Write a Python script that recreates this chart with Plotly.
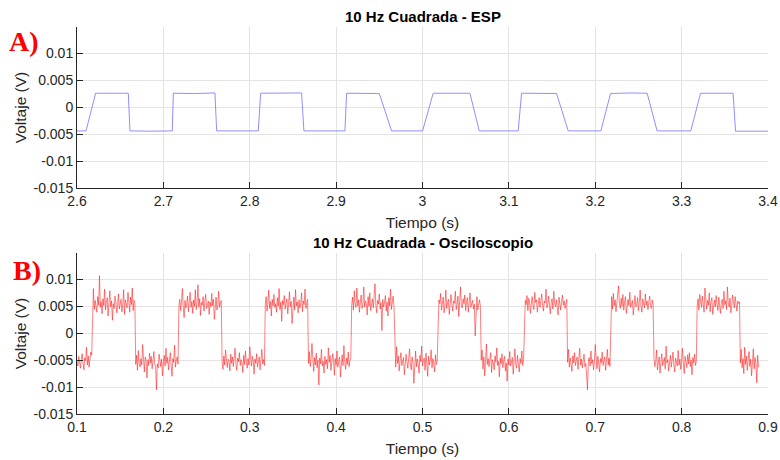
import numpy as np
import plotly.graph_objects as go

# ---------------- Data ----------------
# Panel A: ESP capture (time in s, voltage in mV)
esp_time = [2.600, 2.6104, 2.6216, 2.635, 2.648, 2.6594, 2.6613, 2.685, 2.7103, 2.7115,
            2.735, 2.7597, 2.7617, 2.790, 2.8099, 2.8126, 2.835, 2.860, 2.8627, 2.890,
            2.9102, 2.9121, 2.930, 2.950, 2.9642, 2.980, 3.0001, 3.0124, 3.035, 3.0549,
            3.0657, 3.090, 3.1108, 3.1147, 3.135, 3.1552, 3.1687, 3.190, 3.2065, 3.2177,
            3.240, 3.2601, 3.2716, 3.290, 3.3106, 3.3219, 3.340, 3.3596, 3.3624, 3.380, 3.400]
esp_mV = [-4.4, -4.4, 2.6, 2.55, 2.6, 2.6, -4.4, -4.45, -4.4, 2.6,
          2.55, 2.65, -4.4, -4.4, -4.4, 2.6, 2.65, 2.65, -4.4, -4.4,
          -4.4, 2.6, 2.6, 2.55, -4.4, -4.45, -4.4, 2.6, 2.65, 2.6,
          -4.4, -4.4, -4.4, 2.6, 2.6, 2.55, -4.4, -4.4, -4.4, 2.55,
          2.65, 2.6, -4.4, -4.4, -4.4, 2.6, 2.6, 2.6, -4.45, -4.4, -4.45]

# Panel B: oscilloscope capture, sampled every 1 ms starting at 0.100 s (mV)
osc_t0 = 0.100
osc_dt = 0.001
osc_mV = [
    -5.2, -6.1, -4.3, -5.8, -6.5, -4.9, -3.8, -5.5, -6.8, -4.6,
    -5.1, -2.6, -5.9, -4.2, -6.3, -4.8, -3.5, -4.1,
    5.6, 8.3, 4.4, 6.1, 5.0, 3.9, 6.8, 5.2, 10.7, 4.8,
    5.9, 3.6, 6.4, 5.1, 8.2, 4.3, 5.7, 6.6, 3.2, 5.3,
    7.9, 4.9, 6.0, 2.4, 5.5, 4.6, 6.9, 5.8, 3.8, 5.2,
    7.3, 4.5, 5.9, 6.3, 4.0, 5.4, 8.1, 3.5, 6.2, 5.0,
    4.7, 7.6, 5.6, 3.9, 6.7, 5.3, 8.4, 4.2, 6.1, 5.7,
    -5.8, -4.1, -6.9, -3.2, -5.4, -6.3, -4.7, -5.9, -2.1, -5.6,
    -7.2, -4.4, -5.1, -8.3, -4.9, -6.0, -3.7, -5.5, -4.3, -6.6,
    -5.2, -3.4, -5.8, -6.1, -10.5, -5.7, -6.4, -3.9, -5.0, -6.2,
    -4.8, -7.9, -5.3, -4.1, -6.1, -2.8, -5.6, -4.5, -6.8, -5.1,
    -3.6, -5.9, -8.0, -4.7, -5.4, -2.2, -6.3, -5.0, -4.4, -5.7,
    5.1, 6.3, 4.2, 5.8, 8.3, 5.0, 2.9, 6.1, 4.7, 5.5,
    6.9, 4.0, 5.3, 7.6, 4.8, 5.9, 3.7, 6.2, 5.0, 8.1,
    4.4, 5.6, 9.0, 4.9, 6.4, 3.3, 5.7, 5.2, 6.8, 4.1,
    5.9, 7.2, 4.6, 5.3, 6.0, 3.5, 5.8, 4.9, 7.4, 5.1,
    6.3, 2.6, 5.5, 6.7, 4.3, 5.0, 7.8, 4.8, 5.6, 6.1,
    -5.3, -6.7, -4.2, -5.9, -3.1, -5.5, -6.4, -4.8, -5.1, -7.0,
    -3.9, -5.6, -4.4, -6.2, -5.0, -2.8, -5.7, -6.9, -4.6, -5.3,
    -3.6, -6.0, -4.9, -5.4, -7.3, -4.1, -5.8, -3.3, -5.2, -6.5,
    -4.7, -5.9, -2.5, -5.5, -6.1, -4.3, -5.0, -7.6, -4.8, -5.6,
    -3.8, -6.3, -5.1, -4.4, -6.8, -5.4, -3.0, -5.7, -4.9, -6.0,
    5.4, 6.8, 4.1, 5.7, 8.0, 4.6, 5.9, 3.2, 6.3, 5.1,
    7.2, 4.8, 5.5, 3.9, 6.6, 5.0, 8.3, 4.4, 5.8, 2.2,
    6.1, 5.3, 7.0, 4.5, 5.6, 6.4, 3.6, 5.2, 7.7, 4.9,
    5.9, 1.8, 5.4, 6.7, 4.3, 8.1, 5.1, 5.8, 3.8, 6.2,
    4.7, 5.5, 7.5, 4.0, 6.0, 5.3, 8.2, 4.6, 5.7, 6.3,
    -5.6, -3.4, -6.2, -4.8, -1.9, -5.3, -7.1, -4.5, -5.9, -3.7,
    -6.4, -5.0, -9.6, -4.6, -5.7, -3.0, -6.1, -5.2, -7.4, -4.3,
    -5.8, -4.9, -6.6, -2.7, -5.4, -4.1, -6.9, -5.5, -3.8, -5.0,
    -7.8, -4.7, -5.9, -3.3, -6.3, -5.1, -4.4, -8.1, -5.6, -4.0,
    -6.0, -2.3, -5.3, -6.7, -4.6, -5.8, -3.5, -6.2, -5.0, -4.8,
    5.2, 6.7, 4.3, 7.9, 5.6, 4.8, 8.4, 5.1, 6.2, 3.9,
    5.8, 7.1, 4.6, 5.3, 8.6, 4.9, 6.0, 5.5, 3.4, 6.8,
    5.0, 7.5, 4.2, 5.9, 6.4, 4.7, 8.0, 9.2, 5.2, 3.8,
    6.1, 5.4, 7.3, 4.5, 5.7, 0.5, 6.3, 4.9, 5.6, 7.0,
    4.1, 5.8, 3.2, 6.6, 5.1, 8.2, 4.4, 5.5, 6.9, 5.0,
    -4.9, -6.3, -2.5, -5.6, -4.2, -7.0, -5.1, -3.6, -6.0, -5.4,
    -4.5, -7.7, -5.8, -3.9, -5.2, -6.5, -4.7, -2.9, -5.9, -6.8,
    -4.4, -5.5, -9.3, -5.0, -3.3, -6.2, -4.8, -5.7, -7.4, -4.1,
    -5.3, -2.4, -6.1, -5.0, -4.6, -6.9, -3.7, -5.6, -8.0, -4.3,
    -5.9, -5.1, -3.1, -6.4, -4.7, -5.5, -7.2, -4.0, -5.8, -5.2,
    4.8, 6.2, 5.5, 7.4, 4.3, 5.9, 6.7, 3.8, 5.2, 8.0,
    4.6, 5.7, 6.3, 3.5, 5.0, 7.2, 5.4, 4.1, 6.0, 5.6,
    7.8, 4.4, 5.3, 6.9, 3.1, 5.8, 8.6, 5.1, 4.7, 6.4,
    5.5, 7.1, 4.2, 5.9, 6.6, 3.9, 5.2, 7.5, 4.8, 5.6,
    6.1, 4.5, 5.4, -0.5, 5.0, 6.8, 4.3, 5.7, 6.2, 5.1,
    -5.0, -3.1, -6.6, -4.4, -7.9, -5.3, -2.0, -5.8, -4.7, -6.2,
    -5.1, -3.6, -7.3, -4.9, -5.6, -6.8, -4.2, -5.4, -2.7, -6.0,
    -5.2, -8.1, -4.6, -5.7, -3.8, -6.4, -5.0, -4.3, -7.0, -5.5,
    -8.9, -4.8, -5.9, -3.4, -6.1, -5.3, -4.5, -7.6, -5.0, -2.9,
    -5.8, -6.5, -4.1, -5.4, -7.2, -4.7, -5.6, -3.3, -6.0, -4.9,
    4.6, 6.1, 5.3, 7.0, 4.2, 6.5, 5.8, 3.7, 5.5, 6.8,
    5.0, 4.4, 7.6, 5.7, 6.2, 3.9, 5.4, 6.6, 4.8, 5.9,
    7.3, 5.2, 4.1, 6.0, 5.6, 8.2, 4.7, 5.3, 6.9, 5.1,
    3.6, 5.8, 6.4, 4.5, 7.8, 5.5, 4.9, 6.2, 5.0, 3.4,
    6.7, 5.4, 4.3, 5.9, 7.1, 5.2, 6.0, 4.6, 5.7, 6.3,
    -5.4, -3.0, -6.3, -4.6, -5.8, -7.1, -4.2, -5.5, -3.6, -6.0,
    -5.1, -4.4, -6.7, -5.3, -2.8, -5.9, -4.8, -6.4, -5.0, -3.9,
    -6.2, -5.6, -7.8, -10.5, -5.2, -4.5, -6.1, -3.3, -5.7, -4.9,
    -6.8, -5.4, -2.1, -5.0, -6.6, -4.3, -5.8, -7.2, -4.7, -5.5,
    -3.5, -6.0, -5.1, -4.4, -6.9, -5.3, -3.0, -5.9, -4.6, -6.2,
    5.3, 6.8, 4.5, 7.4, 5.1, 6.2, 4.0, 5.7, 7.9, 8.8,
    5.4, 4.6, 6.5, 5.0, 7.2, 4.3, 5.9, 6.8, 3.7, 5.5,
    6.3, 5.1, 7.6, 4.8, 5.6, 6.1, 3.4, 5.8, 7.0, 4.9,
    5.3, 6.6, 4.2, 5.7, 8.0, 5.0, 3.9, 6.4, 5.5, 4.7,
    7.3, 5.2, 6.0, 4.4, 5.8, 6.9, 5.1, 4.6, 6.2, 5.4,
    -4.7, -6.2, -5.3, -3.1, -6.8, -5.0, -4.4, -7.4, -5.6, -3.8,
    -6.0, -5.2, -4.5, -6.6, -2.4, -5.5, -4.9, -7.0, -5.7, -4.1,
    -6.3, -5.0, -3.5, -5.8, -7.2, -4.6, -5.4, -6.1, -3.2, -5.9,
    -4.8, -6.7, -5.1, -2.8, -5.6, -7.5, -4.3, -5.3, -6.4, -4.0,
    -5.7, -3.6, -6.2, -5.0, -7.7, -4.5, -5.5, -3.9, -6.0, -5.2,
    5.0, 6.4, 4.3, 7.2, 5.6, 4.8, 6.9, 5.3, 3.9, 8.4,
    5.7, 4.5, 6.1, 5.2, 7.5, 4.0, 5.9, 6.6, 3.5, 5.4,
    6.2, 4.9, 7.0, 5.5, 4.2, 6.7, 5.1, 3.7, 5.8, 6.3,
    4.6, 7.8, 5.3, 6.0, 4.4, 8.6, 5.6, 4.9, 6.5, 3.8,
    5.2, 7.1, 5.9, 4.7, 6.8, 5.4, 4.1, 6.0, 5.5, 5.8,
    -5.5, -3.0, -6.4, -4.7, -7.5, -2.6, -5.8, -4.2, -6.9, -5.1,
    -3.4, -6.2, -4.8, -7.9, -5.3, -2.9, -6.6, -4.5, -5.7, -9.2,
    -4.1, -6.3,
]

# Tick labels
y_tickvals = [-0.015, -0.01, -0.005, 0, 0.005, 0.01]
y_ticktext = ["-0.015", "-0.01", "-0.005", "0", "0.005", "0.01"]
xa_tickvals = [2.6, 2.7, 2.8, 2.9, 3.0, 3.1, 3.2, 3.3, 3.4]
xa_ticktext = ["2.6", "2.7", "2.8", "2.9", "3", "3.1", "3.2", "3.3", "3.4"]
xb_tickvals = [0.1, 0.2, 0.3, 0.4, 0.5, 0.6, 0.7, 0.8, 0.9]
xb_ticktext = ["0.1", "0.2", "0.3", "0.4", "0.5", "0.6", "0.7", "0.8", "0.9"]

titles = ["10 Hz Cuadrada - ESP", "10 Hz Cuadrada - Osciloscopio"]
panel_labels = ["A)", "B)"]

# ---------------- Figure ----------------
esp_v = [v / 1000 for v in esp_mV]
osc_v = [v / 1000 for v in osc_mV]
osc_time = [osc_t0 + i * osc_dt for i in range(len(osc_mV))]

W, H = 780, 460
ML, MR, MT, MB = 77, 12, 27, 46
PW, PH = W - ML - MR, H - MT - MB

def px_x(px):
    return (px - ML) / PW

def px_y(py):
    return (H - MB - py) / PH

fig = go.Figure()
fig.add_trace(go.Scatter(x=esp_time, y=esp_v, mode="lines",
                         line=dict(color="#8f8fff", width=1),
                         xaxis="x", yaxis="y", showlegend=False, hoverinfo="skip"))
fig.add_trace(go.Scatter(x=osc_time, y=osc_v, mode="lines",
                         line=dict(color="rgba(255,25,25,0.8)", width=0.7),
                         xaxis="x2", yaxis="y2", showlegend=False, hoverinfo="skip"))

font_family = "Liberation Sans, Arial, sans-serif"
tick_font = dict(family=font_family, size=14, color="#262626")
title_font = dict(family=font_family, size=15.5, color="#262626")

common = dict(showgrid=True, gridcolor="#e3e3e3", gridwidth=1,
              showline=True, linecolor="#262626", linewidth=1,
              ticks="inside", ticklen=6, tickcolor="#262626", tickwidth=1,
              zeroline=False, tickfont=tick_font, mirror=False, automargin=False)

top_dom = [px_y(188), 1.0]
bot_dom = [0.0, px_y(253)]

fig.update_layout(
    width=W, height=H,
    margin=dict(l=ML, r=MR, t=MT, b=MB, autoexpand=False),
    paper_bgcolor="white", plot_bgcolor="white",
    xaxis=dict(domain=[0, 1], anchor="y", range=[2.6, 3.4],
               tickvals=xa_tickvals, ticktext=xa_ticktext,
               title=dict(text="Tiempo (s)", font=title_font, standoff=9), **common),
    yaxis=dict(domain=top_dom, anchor="x", range=[-0.015, 0.0149],
               tickvals=y_tickvals, ticktext=y_ticktext,
               title=dict(text="Voltaje (V)", font=title_font, standoff=3), **common),
    xaxis2=dict(domain=[0, 1], anchor="y2", range=[0.1, 0.9],
                tickvals=xb_tickvals, ticktext=xb_ticktext,
                title=dict(text="Tiempo (s)", font=title_font, standoff=9), **common),
    yaxis2=dict(domain=bot_dom, anchor="x2", range=[-0.015, 0.0149],
                tickvals=y_tickvals, ticktext=y_ticktext,
                title=dict(text="Voltaje (V)", font=title_font, standoff=3), **common),
)

# Panel titles
fig.add_annotation(x=0.5, y=px_y(16), xref="paper", yref="paper", text="<b>" + titles[0] + "</b>",
                   showarrow=False, xanchor="center", yanchor="middle",
                   font=dict(family=font_family, size=15, color="#000000"))
fig.add_annotation(x=0.5, y=px_y(242), xref="paper", yref="paper", text="<b>" + titles[1] + "</b>",
                   showarrow=False, xanchor="center", yanchor="middle",
                   font=dict(family=font_family, size=15, color="#000000"))

# Panel labels
label_font = dict(family="Liberation Serif, Times New Roman, serif", size=28, color="#ff0000")
fig.add_annotation(x=px_x(7), y=px_y(41), xref="paper", yref="paper", text="<b>" + panel_labels[0] + "</b>",
                   showarrow=False, xanchor="left", yanchor="middle", font=label_font)
fig.add_annotation(x=px_x(11), y=px_y(270), xref="paper", yref="paper", text="<b>" + panel_labels[1] + "</b>",
                   showarrow=False, xanchor="left", yanchor="middle", font=label_font)

fig.write_html("out.html",
               config={"displayModeBar": False},
               post_script="document.body.style.margin='0';document.body.style.padding='0';"
                           "document.body.style.overflow='hidden';")
